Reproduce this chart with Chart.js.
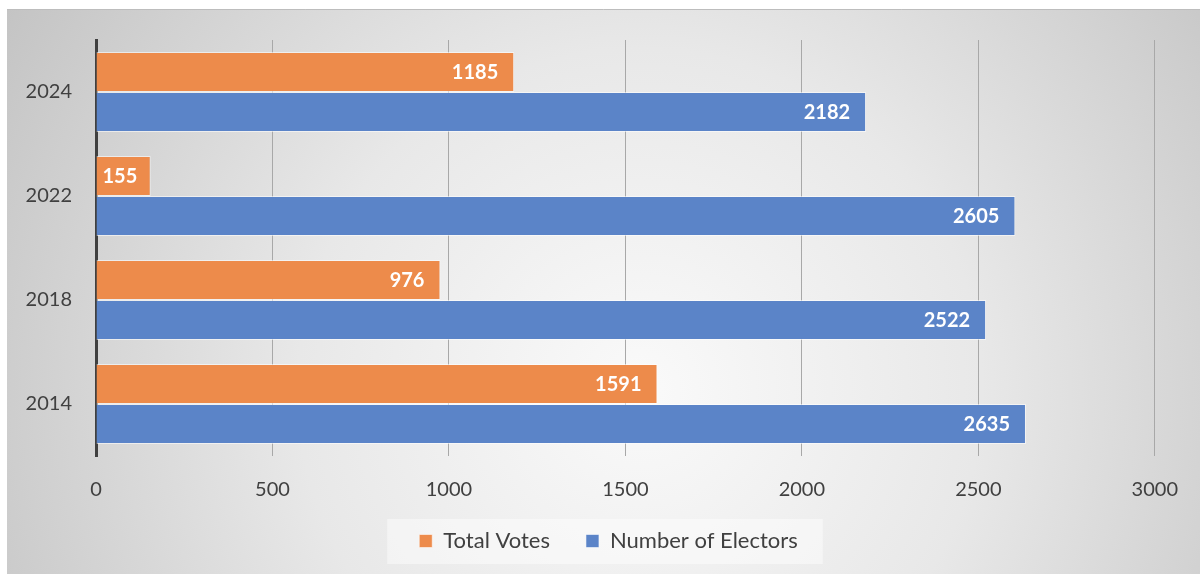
<!DOCTYPE html>
<html>
<head>
<meta charset="utf-8">
<script src="https://cdn.jsdelivr.net/npm/chart.js@4"></script>
<style>
  html, body { margin: 0; padding: 0; background: #fff; }
  #wrap { width: 1200px; height: 574px; }
</style>
</head>
<body>
<div id="wrap"><canvas id="barChart"></canvas></div>
<script>
const years = ['2024', '2022', '2018', '2014'];
const totalVotes = [1185, 155, 976, 1591];
const electors = [2182, 2605, 2522, 2635];
const xTicks = [0, 500, 1000, 1500, 2000, 2500, 3000];

const FONT = 'Lato, "Open Sans", sans-serif';

// gray radial background + faint legend panel
const background = {
  id: 'background',
  afterLayout(chart) {
    // legend sits a little right of centre in the original
    const lg = chart.legend;
    lg.left += 30;
    lg.right += 30;
    lg.top -= 10;
    lg.bottom -= 10;
  },
  beforeDraw(chart) {
    const c = chart.ctx;
    c.save();
    c.fillStyle = '#ffffff';
    c.fillRect(0, 0, chart.width, chart.height);
    const g = c.createRadialGradient(640, 390, 0, 640, 390, 760);
    g.addColorStop(0, '#fafafa');
    g.addColorStop(0.45, '#e8e8e8');
    g.addColorStop(1, '#c2c2c2');
    c.fillStyle = g;
    c.fillRect(7, 9, chart.width - 7, chart.height - 9);
    c.strokeStyle = '#bdbdbd';
    c.lineWidth = 1;
    c.beginPath();
    c.moveTo(7, 9.5);
    c.lineTo(chart.width, 9.5);
    c.stroke();

    const boxes = chart.legend && chart.legend.legendHitBoxes;
    if (boxes && boxes.length) {
      const l = Math.min(...boxes.map(b => b.left)) - 32;
      const r = Math.max(...boxes.map(b => b.left + b.width)) + 25;
      const cy = boxes[0].top + boxes[0].height / 2;
      c.fillStyle = 'rgba(255,255,255,0.45)';
      c.fillRect(l, cy - 22, r - l, 45);
    }
    c.restore();
  }
};

// white bold value labels inside the bar ends
const valueLabels = {
  id: 'valueLabels',
  afterDatasetsDraw(chart) {
    const c = chart.ctx;
    c.save();
    c.font = 'bold 20px ' + FONT;
    c.fillStyle = '#ffffff';
    c.textAlign = 'right';
    c.textBaseline = 'middle';
    chart.data.datasets.forEach((ds, i) => {
      chart.getDatasetMeta(i).data.forEach((bar, j) => {
        const txt = String(ds.data[j]);
        const w = c.measureText(txt).width;
        const x = Math.max(bar.x - 16, bar.base + 6 + w);
        c.fillText(txt, x, bar.y + 1);
      });
    });
    c.restore();
  }
};

new Chart(document.getElementById('barChart'), {
  type: 'bar',
  data: {
    labels: years,
    datasets: [{
      label: 'Total Votes',
      data: totalVotes,
      backgroundColor: '#ed8b4b',
      borderColor: 'rgba(255,255,255,0.55)',
      borderWidth: 1,
      categoryPercentage: 0.77,
      barPercentage: 1
    }, {
      label: 'Number of Electors',
      data: electors,
      backgroundColor: '#5b84c8',
      borderColor: 'rgba(255,255,255,0.55)',
      borderWidth: 1,
      categoryPercentage: 0.77,
      barPercentage: 1
    }]
  },
  options: {
    indexAxis: 'y',
    responsive: true,
    maintainAspectRatio: false,
    animation: false,
    layout: { padding: { top: 40, right: 43, bottom: 2, left: 0 } },
    plugins: {
      legend: {
        position: 'bottom',
        labels: {
          color: '#404040',
          font: { family: FONT, size: 22 },
          boxWidth: 13,
          boxHeight: 13,
          padding: 36
        }
      },
      tooltip: { enabled: false }
    },
    scales: {
      x: {
        min: 0,
        max: 3000,
        afterBuildTicks: s => { s.ticks = xTicks.map(v => ({ value: v })); },
        afterFit: s => { s.height = 48; },
        grid: { color: '#a8a8a8', lineWidth: 1, drawTicks: false },
        border: { display: false },
        ticks: {
          color: '#404040',
          font: { family: FONT, size: 20 },
          padding: 22,
          callback: v => String(v)
        }
      },
      y: {
        afterFit: s => { s.width = 96; },
        grid: { display: false },
        border: { color: '#404040', width: 3 },
        ticks: { color: '#404040', font: { family: FONT, size: 20 }, padding: 16 }
      }
    }
  },
  plugins: [background, valueLabels]
});
</script>
</body>
</html>
